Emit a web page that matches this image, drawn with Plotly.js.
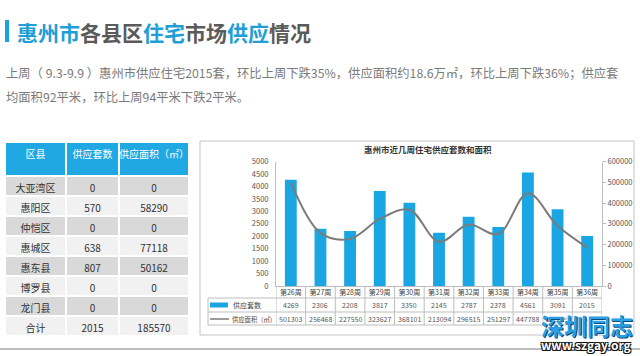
<!DOCTYPE html>
<html>
<head>
<meta charset="utf-8">
<script src="https://cdn.plot.ly/plotly-3.0.1.min.js"></script>
<style>html,body{margin:0;padding:0;background:#fff;}#chart{width:640px;height:356px;}</style>
</head>
<body>
<div id="chart"></div>
<script>
// ---- chart data ----
const weeks = ['第26周','第27周','第28周','第29周','第30周','第31周','第32周','第33周','第34周','第35周','第36周'];
const units = [4269, 2306, 2208, 3817, 3350, 2145, 2787, 2378, 4561, 3091, 2015];
const areas = [501303, 256468, 227550, 323627, 368101, 213094, 296515, 251297, 447788, 290500, 185570];
const seriesNames = ['供应套数', '供应面积（㎡）'];

// ---- district table data ----
const tableHeader = ['区县', '供应套数', '供应面积（㎡）'];
const districts = ['大亚湾区','惠阳区','仲恺区','惠城区','惠东县','博罗县','龙门县','合计'];
const distUnits = [0, 570, 0, 638, 807, 0, 0, 2015];
const distAreas = [0, 58290, 0, 77118, 50162, 0, 0, 185570];

// ---- texts ----
const titleParts = [['惠州市','b'],['各县区','g'],['住宅','b'],['市场','g'],['供应','b'],['情况','g']];
const paraLines = [
  '上周（ 9.3-9.9 ）惠州市供应住宅2015套，环比上周下跌35%，供应面积约18.6万㎡，环比上周下跌36%；供应套',
  '均面积92平米，环比上周94平米下跌2平米。'
];
const chartTitle = '惠州市近几周住宅供应套数和面积';

// ---- helpers (pixel -> paper) ----
const W = 640, H = 356;
const px = x => x / W;
const py = y => 1 - y / H;
const FONT = '"Noto Sans CJK SC", "Noto Sans", sans-serif';
const BLUE = '#1aa6e2';
const TEAL = '#1f9fd6';

const plotTop = 161.7, plotBot = 286, plotL = 276, plotR = 602;

const traces = [
  {
    type: 'bar', x: weeks, y: units, name: seriesNames[0],
    marker: {color: BLUE}, width: 0.4, xaxis: 'x', yaxis: 'y',
    hoverinfo: 'skip', showlegend: false
  },
  {
    type: 'scatter', mode: 'lines', x: weeks, y: areas, name: seriesNames[1],
    line: {color: '#7b7b7b', width: 2, shape: 'spline', smoothing: 1},
    xaxis: 'x', yaxis: 'y2', hoverinfo: 'skip', showlegend: false
  },
  {
    type: 'table',
    domain: {x: [px(5), px(189)], y: [py(336), py(142)]},
    columnwidth: [61, 53, 70],
    header: {
      values: tableHeader,
      fill: {color: '#20a8e3'},
      line: {color: '#ffffff', width: 2},
      align: 'center', height: 34,
      font: {family: FONT, size: 10, color: '#ffffff'}
    },
    cells: {
      values: [districts, distUnits, distAreas],
      fill: {color: [districts.map((d, i) => i % 2 === 0 ? '#d9d9d9' : '#f1f1f1')]},
      line: {color: '#ffffff', width: 2},
      align: 'center', height: 20,
      font: {family: FONT, size: 10, color: '#333333'}
    }
  }
];

const shapes = [];
const annotations = [];

// title accent bar
shapes.push({type: 'rect', xref: 'paper', yref: 'paper', x0: px(5), x1: px(9), y0: py(42), y1: py(20),
  fillcolor: '#1aa3dc', line: {width: 0}});
// title
annotations.push({
  xref: 'paper', yref: 'paper', x: px(15), y: py(32), xanchor: 'left', yanchor: 'middle', showarrow: false,
  text: '<b>' + titleParts.map(p => '<span style="color:' + (p[1] === 'b' ? TEAL : '#5a5a5a') + '">' + p[0] + '</span>').join('') + '</b>',
  font: {family: FONT, size: 21}
});
// paragraph
paraLines.forEach((t, i) => {
  annotations.push({xref: 'paper', yref: 'paper', x: px(4), y: py(73 + i * 24), xanchor: 'left', yanchor: 'middle',
    showarrow: false, text: t, font: {family: FONT, size: 12.3, color: '#7a7a7a'}});
});

// chart panel box
shapes.push({type: 'rect', xref: 'paper', yref: 'paper', x0: px(200), x1: px(634), y0: py(335), y1: py(141),
  line: {color: '#c4c4c4', width: 1}, fillcolor: 'rgba(0,0,0,0)', layer: 'below'});
annotations.push({xref: 'paper', yref: 'paper', x: px(428), y: py(148.5), xanchor: 'center', yanchor: 'middle',
  showarrow: false, text: '<b>' + chartTitle + '</b>', font: {family: FONT, size: 8.5, color: '#333'}});

// data table under chart
const gridC = '#bdbdbd';
const rowY = [286, 298, 312, 325];
for (let k = 1; k < rowY.length; k++) {
  shapes.push({type: 'line', xref: 'paper', yref: 'paper', x0: px(208), x1: px(plotR), y0: py(rowY[k]), y1: py(rowY[k]),
    line: {color: gridC, width: 1}});
}
shapes.push({type: 'line', xref: 'paper', yref: 'paper', x0: px(208), x1: px(208), y0: py(298), y1: py(325),
  line: {color: gridC, width: 1}});
for (let i = 0; i <= weeks.length; i++) {
  shapes.push({type: 'line', xref: 'x', yref: 'paper', x0: i - 0.5, x1: i - 0.5, y0: py(286), y1: py(325),
    line: {color: gridC, width: 1}});
}
// legend keys
shapes.push({type: 'rect', xref: 'paper', yref: 'paper', x0: px(210), x1: px(228), y0: py(307.5), y1: py(302.5),
  fillcolor: BLUE, line: {width: 0}});
shapes.push({type: 'line', xref: 'paper', yref: 'paper', x0: px(210), x1: px(229), y0: py(319), y1: py(319),
  line: {color: '#7b7b7b', width: 1.5}});
annotations.push({xref: 'paper', yref: 'paper', x: px(231), y: py(305), xanchor: 'left', yanchor: 'middle',
  showarrow: false, text: seriesNames[0], font: {family: FONT, size: 7, color: '#444'}});
annotations.push({xref: 'paper', yref: 'paper', x: px(230), y: py(319), xanchor: 'left', yanchor: 'middle',
  showarrow: false, text: seriesNames[1], font: {family: FONT, size: 6.3, color: '#444'}});
weeks.forEach((w, i) => {
  annotations.push({xref: 'x', yref: 'paper', x: w, y: py(305), xanchor: 'center', yanchor: 'middle',
    showarrow: false, text: String(units[i]), font: {family: FONT, size: 7, color: '#555'}});
  annotations.push({xref: 'x', yref: 'paper', x: w, y: py(319), xanchor: 'center', yanchor: 'middle',
    showarrow: false, text: String(areas[i]), font: {family: FONT, size: 7, color: '#555'}});
});

// bottom rule
shapes.push({type: 'line', xref: 'paper', yref: 'paper', x0: 0, x1: 1, y0: py(349), y1: py(349),
  line: {color: '#a8a8a8', width: 1.5}});

// site watermark
annotations.push({xref: 'paper', yref: 'paper', x: px(587), y: py(325), xanchor: 'center', yanchor: 'middle',
  showarrow: false, text: '<b>深圳同志</b>',
  font: {family: FONT, size: 23, color: '#2b9fe3', shadow: '1px 1px 0 #0d4a7a, -1px -1px 0 #ffffff'}});
annotations.push({xref: 'paper', yref: 'paper', x: px(586), y: py(344), xanchor: 'center', yanchor: 'middle',
  showarrow: false, text: '<b>www.szgay.org</b>',
  font: {family: FONT, size: 12, color: '#ffffff', shadow: '-1px -1px 0 #111, 1px -1px 0 #111, -1px 1px 0 #111, 1px 1px 0 #111'}});

const layout = {
  width: W, height: H,
  margin: {l: 0, r: 0, t: 0, b: 0},
  paper_bgcolor: '#ffffff', plot_bgcolor: 'rgba(0,0,0,0)',
  font: {family: FONT},
  showlegend: false,
  xaxis: {
    domain: [px(plotL), px(plotR)], anchor: 'y', type: 'category', range: [-0.5, weeks.length - 0.5],
    showline: true, linecolor: '#bdbdbd', linewidth: 1, ticks: '', showgrid: false, zeroline: false,
    tickfont: {family: FONT, size: 7, color: '#444'}, ticklabelstandoff: 0
  },
  yaxis: {
    domain: [py(plotBot), py(plotTop)], range: [0, 5000], dtick: 500,
    showline: true, linecolor: '#bdbdbd', linewidth: 1, ticks: '', showgrid: false, zeroline: false,
    tickfont: {family: FONT, size: 7.5, color: '#555'}, ticklabelstandoff: 5
  },
  yaxis2: {
    overlaying: 'y', side: 'right', anchor: 'x', range: [0, 600000], dtick: 100000,
    showline: true, linecolor: '#bdbdbd', linewidth: 1, ticks: 'outside', ticklen: 3, tickcolor: '#bdbdbd',
    showgrid: false, zeroline: false, tickformat: 'd',
    tickfont: {family: FONT, size: 7.5, color: '#555'}
  },
  bargap: 0.6,
  shapes: shapes,
  annotations: annotations
};

Plotly.newPlot('chart', traces, layout, {displayModeBar: false, staticPlot: true});
</script>
</body>
</html>
